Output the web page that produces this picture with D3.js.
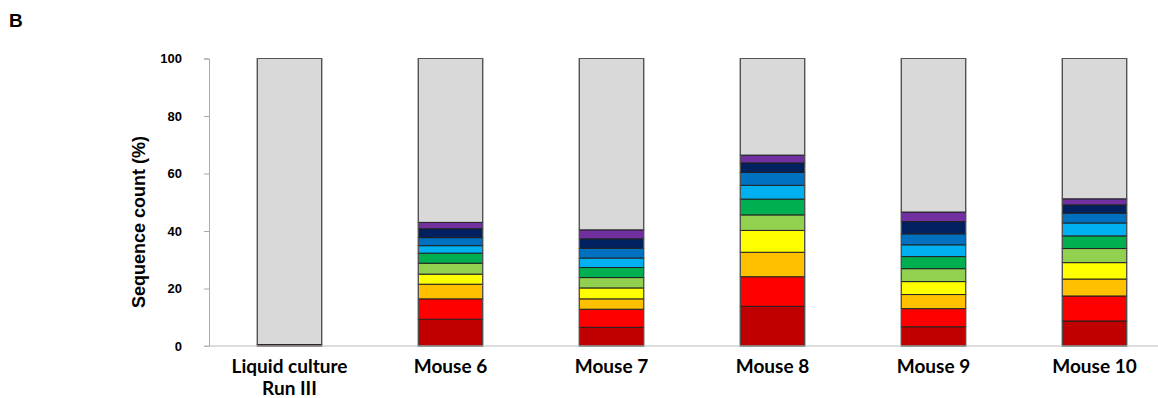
<!DOCTYPE html>
<html>
<head>
<meta charset="utf-8">
<script src="https://cdn.jsdelivr.net/npm/d3@7"></script>
<style>
	body { margin: 0; background: #fff; }
	#root { width: 1158px; height: 398px; }
	.tick text { font-family: Arial, "Liberation Sans", sans-serif; font-weight: bold; font-size: 13px; fill: #000; }
</style>
</head>
<body>
<div id="root"></div>
<script>
const categories = ["Liquid culture|Run III", "Mouse 6", "Mouse 7", "Mouse 8", "Mouse 9", "Mouse 10"];

// clone groups, bottom to top
const darkRed   = [0.5, 9.3, 6.5, 13.8, 6.7, 8.7];
const red       = [0, 7.1, 6.3, 10.3, 6.3, 8.7];
const orange    = [0, 5.1, 3.6, 8.5, 4.9, 5.9];
const yellow    = [0, 3.5, 3.8, 7.6, 4.5, 5.7];
const lightGreen= [0, 3.8, 3.6, 5.4, 4.5, 4.9];
const green     = [0, 3.5, 3.5, 5.5, 4.2, 4.4];
const lightBlue = [0, 2.6, 3.3, 4.8, 4.1, 4.5];
const blue      = [0, 2.8, 3.4, 4.5, 3.8, 3.4];
const navy      = [0, 3.1, 3.3, 3.3, 4.3, 2.9];
const purple    = [0, 2.2, 3.1, 2.7, 3.3, 2.1];

const seriesNames = ["darkRed", "red", "orange", "yellow", "lightGreen", "green", "lightBlue", "blue", "navy", "purple", "other"];
const seriesColors = ["#C00000", "#FF0000", "#FFC000", "#FFFF00", "#92D050", "#00B050", "#00B0F0", "#0070C0", "#002060", "#7030A0", "#D9D9D9"];
const yTicks = [0, 20, 40, 60, 80, 100];

const makeChart = () => {
	const cols = [darkRed, red, orange, yellow, lightGreen, green, lightBlue, blue, navy, purple];

	const table = categories.map((c, i) => {
		const row = { cat: c };
		let sum = 0;
		cols.forEach((arr, k) => { row[seriesNames[k]] = arr[i]; sum += arr[i]; });
		row.other = 100 - sum;
		return row;
	});

	const svg = d3.select("#root")
				.append("svg")
					.attr("width", 1158)
					.attr("height", 398);

	const x = d3.scaleBand()
				.domain(categories)
				.range([209, 1175])
				.paddingInner(0.6)
				.paddingOuter(0.3);

	const y = d3.scaleLinear()
				.domain([0, 100])
				.range([346, 58.5]);

	const stack = d3.stack().keys(seriesNames)(table);
	const color = d3.scaleOrdinal().domain(seriesNames).range(seriesColors);

	// bars
	svg.selectAll(".layer")
		.data(stack)
		.enter()
		.append("g")
			.attr("class", "layer")
			.attr("fill", d => color(d.key))
		.selectAll("rect")
		.data(d => d.filter(s => s[1] - s[0] > 0))
		.enter()
		.append("rect")
			.attr("x", d => x(d.data.cat))
			.attr("width", x.bandwidth())
			.attr("y", d => y(d[1]))
			.attr("height", d => y(d[0]) - y(d[1]))
			.attr("stroke", "#222")
			.attr("stroke-width", 1);

	// outline for each bar
	svg.selectAll(".outline")
		.data(table)
		.enter()
		.append("rect")
			.attr("class", "outline")
			.attr("x", d => x(d.cat))
			.attr("width", x.bandwidth())
			.attr("y", y(100))
			.attr("height", y(0) - y(100))
			.attr("fill", "none")
			.attr("stroke", "#555")
			.attr("stroke-width", 1);

	// y axis
	const yAxis = svg.append("g")
		.attr("transform", "translate(209,0)")
		.call(d3.axisLeft(y).tickValues(yTicks).tickSize(5).tickPadding(22));
	yAxis.select(".domain").attr("stroke", "#aaa");
	yAxis.selectAll(".tick line").attr("stroke", "#aaa");

	// baseline
	svg.append("line")
		.attr("x1", 204).attr("x2", 1158)
		.attr("y1", y(0)).attr("y2", y(0))
		.attr("stroke", "#bbb");

	// category labels
	const labels = svg.selectAll(".cat")
		.data(categories)
		.enter()
		.append("text")
			.attr("class", "cat")
			.attr("x", d => x(d) + x.bandwidth() / 2)
			.attr("y", 373)
			.attr("text-anchor", "middle")
			.style("font-family", "Lato, 'Open Sans', sans-serif")
			.style("font-weight", "bold")
			.style("font-size", "19px");
	labels.selectAll("tspan")
		.data(d => d.split("|").map(t => ({ t, cx: x(d) + x.bandwidth() / 2 })))
		.enter()
		.append("tspan")
			.attr("x", d => d.cx)
			.attr("dy", (d, i) => i === 0 ? 0 : 22)
			.text(d => d.t);

	// y title
	svg.append("text")
		.attr("transform", "translate(145, 222) rotate(-90)")
		.attr("text-anchor", "middle")
		.style("font-family", "Arial, 'Liberation Sans', sans-serif")
		.style("font-weight", "bold")
		.style("font-size", "18px")
		.text("Sequence count (%)");

	// panel letter
	svg.append("text")
		.attr("x", 9)
		.attr("y", 27)
		.style("font-family", "Arial, 'Liberation Sans', sans-serif")
		.style("font-weight", "bold")
		.style("font-size", "19px")
		.text("B");
};

makeChart();
</script>
</body>
</html>
